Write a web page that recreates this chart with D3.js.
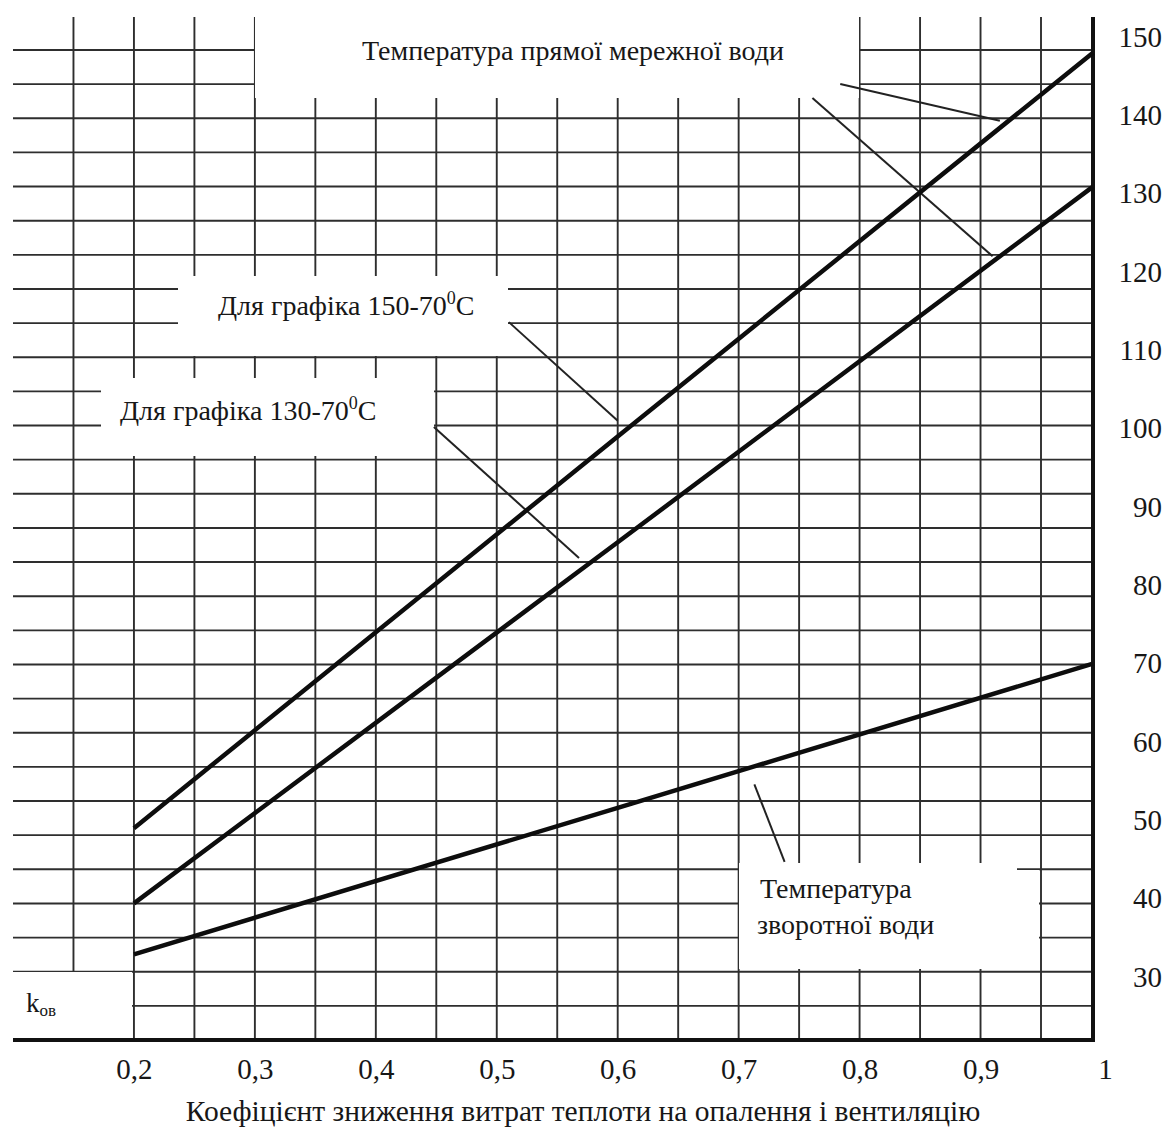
<!DOCTYPE html>
<html>
<head>
<meta charset="utf-8">
<script src="https://cdn.jsdelivr.net/npm/d3@7"></script>
<style>
  body { margin: 0; background: #fff; }
  text { font-family: "Liberation Serif", "Times New Roman", serif; fill: #171717; }
</style>
</head>
<body>
<svg id="chart"></svg>
<script>
let kTicks = [0.2, 0.3, 0.4, 0.5, 0.6, 0.7, 0.8, 0.9, 1.0];
let kLabels = ["0,2", "0,3", "0,4", "0,5", "0,6", "0,7", "0,8", "0,9", "1"];
let tTicks = [30, 40, 50, 60, 70, 80, 90, 100, 110, 120, 130, 140, 150];

// points
let kPoints = [0.2, 0.6, 1.0];
let supply150 = [49, 99, 148];
let supply130 = [39.4, 85.5, 130.9];
let returnWater = [32.9, 51.6, 70];

// leader lines: [k1, t1, k2, t2]
let leaders = [
    [0.784, 144.0, 0.916, 139.3],
    [0.761, 142.2, 0.910, 122.0],
    [0.510, 113.6, 0.600, 101.0],
    [0.448, 100.2, 0.568, 83.5],
    [0.713, 54.6, 0.738, 44.7]
];

let w = 1167;
let h = 1137;
let svg = d3.select('#chart').attr('width', w).attr('height', h);

let x = d3.scaleLinear().domain([0.1, 0.95, 1.0]).range([13, 1041, 1093]);
let y = d3.scaleLinear().domain([30, 150]).range([977, 37]);
let row = d3.scaleLinear().domain([0, 29]).range([50, 1040]);

let gridTop = 17;
let gridBottom = row(29);
let gridColor = '#2e2e2e';

// grid
let cols = d3.range(3, 20).map(i => i * 0.05);
svg.append('g').selectAll('line')
    .data(cols)
    .enter()
    .append('line')
    .attr('x1', d => x(d)).attr('x2', d => x(d))
    .attr('y1', gridTop).attr('y2', gridBottom)
    .attr('stroke', gridColor).attr('stroke-width', 1.9);

svg.append('g').selectAll('line')
    .data(d3.range(0, 29))
    .enter()
    .append('line')
    .attr('x1', x(0.1)).attr('x2', x(1))
    .attr('y1', d => row(d)).attr('y2', d => row(d))
    .attr('stroke', gridColor).attr('stroke-width', 1.9);

// white label boxes cut the grid
let boxes = [
    [255, 0, 604, 98],
    [178, 276, 330, 80],
    [101, 378, 333, 78],
    [739, 863, 278, 106],
    [1017, 870, 22, 99],
    [0, 972, 132, 66]
];
svg.append('g').selectAll('rect')
    .data(boxes)
    .enter()
    .append('rect')
    .attr('x', d => d[0]).attr('y', d => d[1])
    .attr('width', d => d[2]).attr('height', d => d[3])
    .attr('fill', '#fff');

// axes frame
svg.append('line')
    .attr('x1', x(1)).attr('x2', x(1))
    .attr('y1', gridTop).attr('y2', gridBottom + 2)
    .attr('stroke', '#111').attr('stroke-width', 4);
svg.append('line')
    .attr('x1', x(0.1)).attr('x2', x(1) + 2)
    .attr('y1', gridBottom).attr('y2', gridBottom)
    .attr('stroke', '#111').attr('stroke-width', 4);

// leaders
svg.append('g').selectAll('line')
    .data(leaders)
    .enter()
    .append('line')
    .attr('x1', d => x(d[0])).attr('y1', d => y(d[1]))
    .attr('x2', d => x(d[2])).attr('y2', d => y(d[3]))
    .attr('stroke', '#222').attr('stroke-width', 2);

// curves
let line = d3.line()
    .x(d => x(d[0]))
    .y(d => y(d[1]));

[supply150, supply130, returnWater].forEach(s => {
    svg.append('path')
        .datum(kPoints.map((k, i) => [k, s[i]]))
        .attr('d', line)
        .attr('fill', 'none')
        .attr('stroke', '#0d0d0d')
        .attr('stroke-width', 4.5);
});

// tick labels
let yAxis = svg.append('g')
    .attr('transform', 'translate(1162,0)')
    .call(d3.axisLeft(y).tickValues(tTicks).tickSize(0).tickPadding(0));
yAxis.select('.domain').remove();
yAxis.attr('font-size', 29).attr('font-family', null);

let xAxis = svg.append('g')
    .attr('transform', 'translate(0,1058)')
    .call(d3.axisBottom(x).tickValues(kTicks).tickFormat((d, i) => kLabels[i]).tickSize(0).tickPadding(0));
xAxis.select('.domain').remove();
xAxis.attr('font-size', 29).attr('font-family', null);
xAxis.selectAll('text').filter(d => d === 1).attr('dx', 12);

// label texts
let fs = 28;
svg.append('text').attr('x', 573).attr('y', 60)
    .attr('text-anchor', 'middle').attr('font-size', fs)
    .text('Температура прямої мережної води');

let lbl150 = svg.append('text').attr('x', 218).attr('y', 315).attr('font-size', fs);
lbl150.append('tspan').text('Для графіка 150-70');
lbl150.append('tspan').attr('font-size', 18).attr('dy', -11).text('0');
lbl150.append('tspan').attr('dy', 11).text('C');

let lbl130 = svg.append('text').attr('x', 120).attr('y', 420).attr('font-size', fs);
lbl130.append('tspan').text('Для графіка 130-70');
lbl130.append('tspan').attr('font-size', 18).attr('dy', -11).text('0');
lbl130.append('tspan').attr('dy', 11).text('C');

svg.append('text').attr('x', 760).attr('y', 898).attr('font-size', fs).text('Температура');
svg.append('text').attr('x', 757).attr('y', 934).attr('font-size', fs).text('зворотної води');

let kov = svg.append('text').attr('x', 26).attr('y', 1012).attr('font-size', 27);
kov.append('tspan').text('k');
kov.append('tspan').attr('font-size', 17).attr('dy', 4).text('ов');

svg.append('text').attr('x', 583).attr('y', 1121)
    .attr('text-anchor', 'middle').attr('font-size', 29.5)
    .text('Коефіцієнт зниження витрат теплоти на опалення і вентиляцію');
</script>
</body>
</html>
